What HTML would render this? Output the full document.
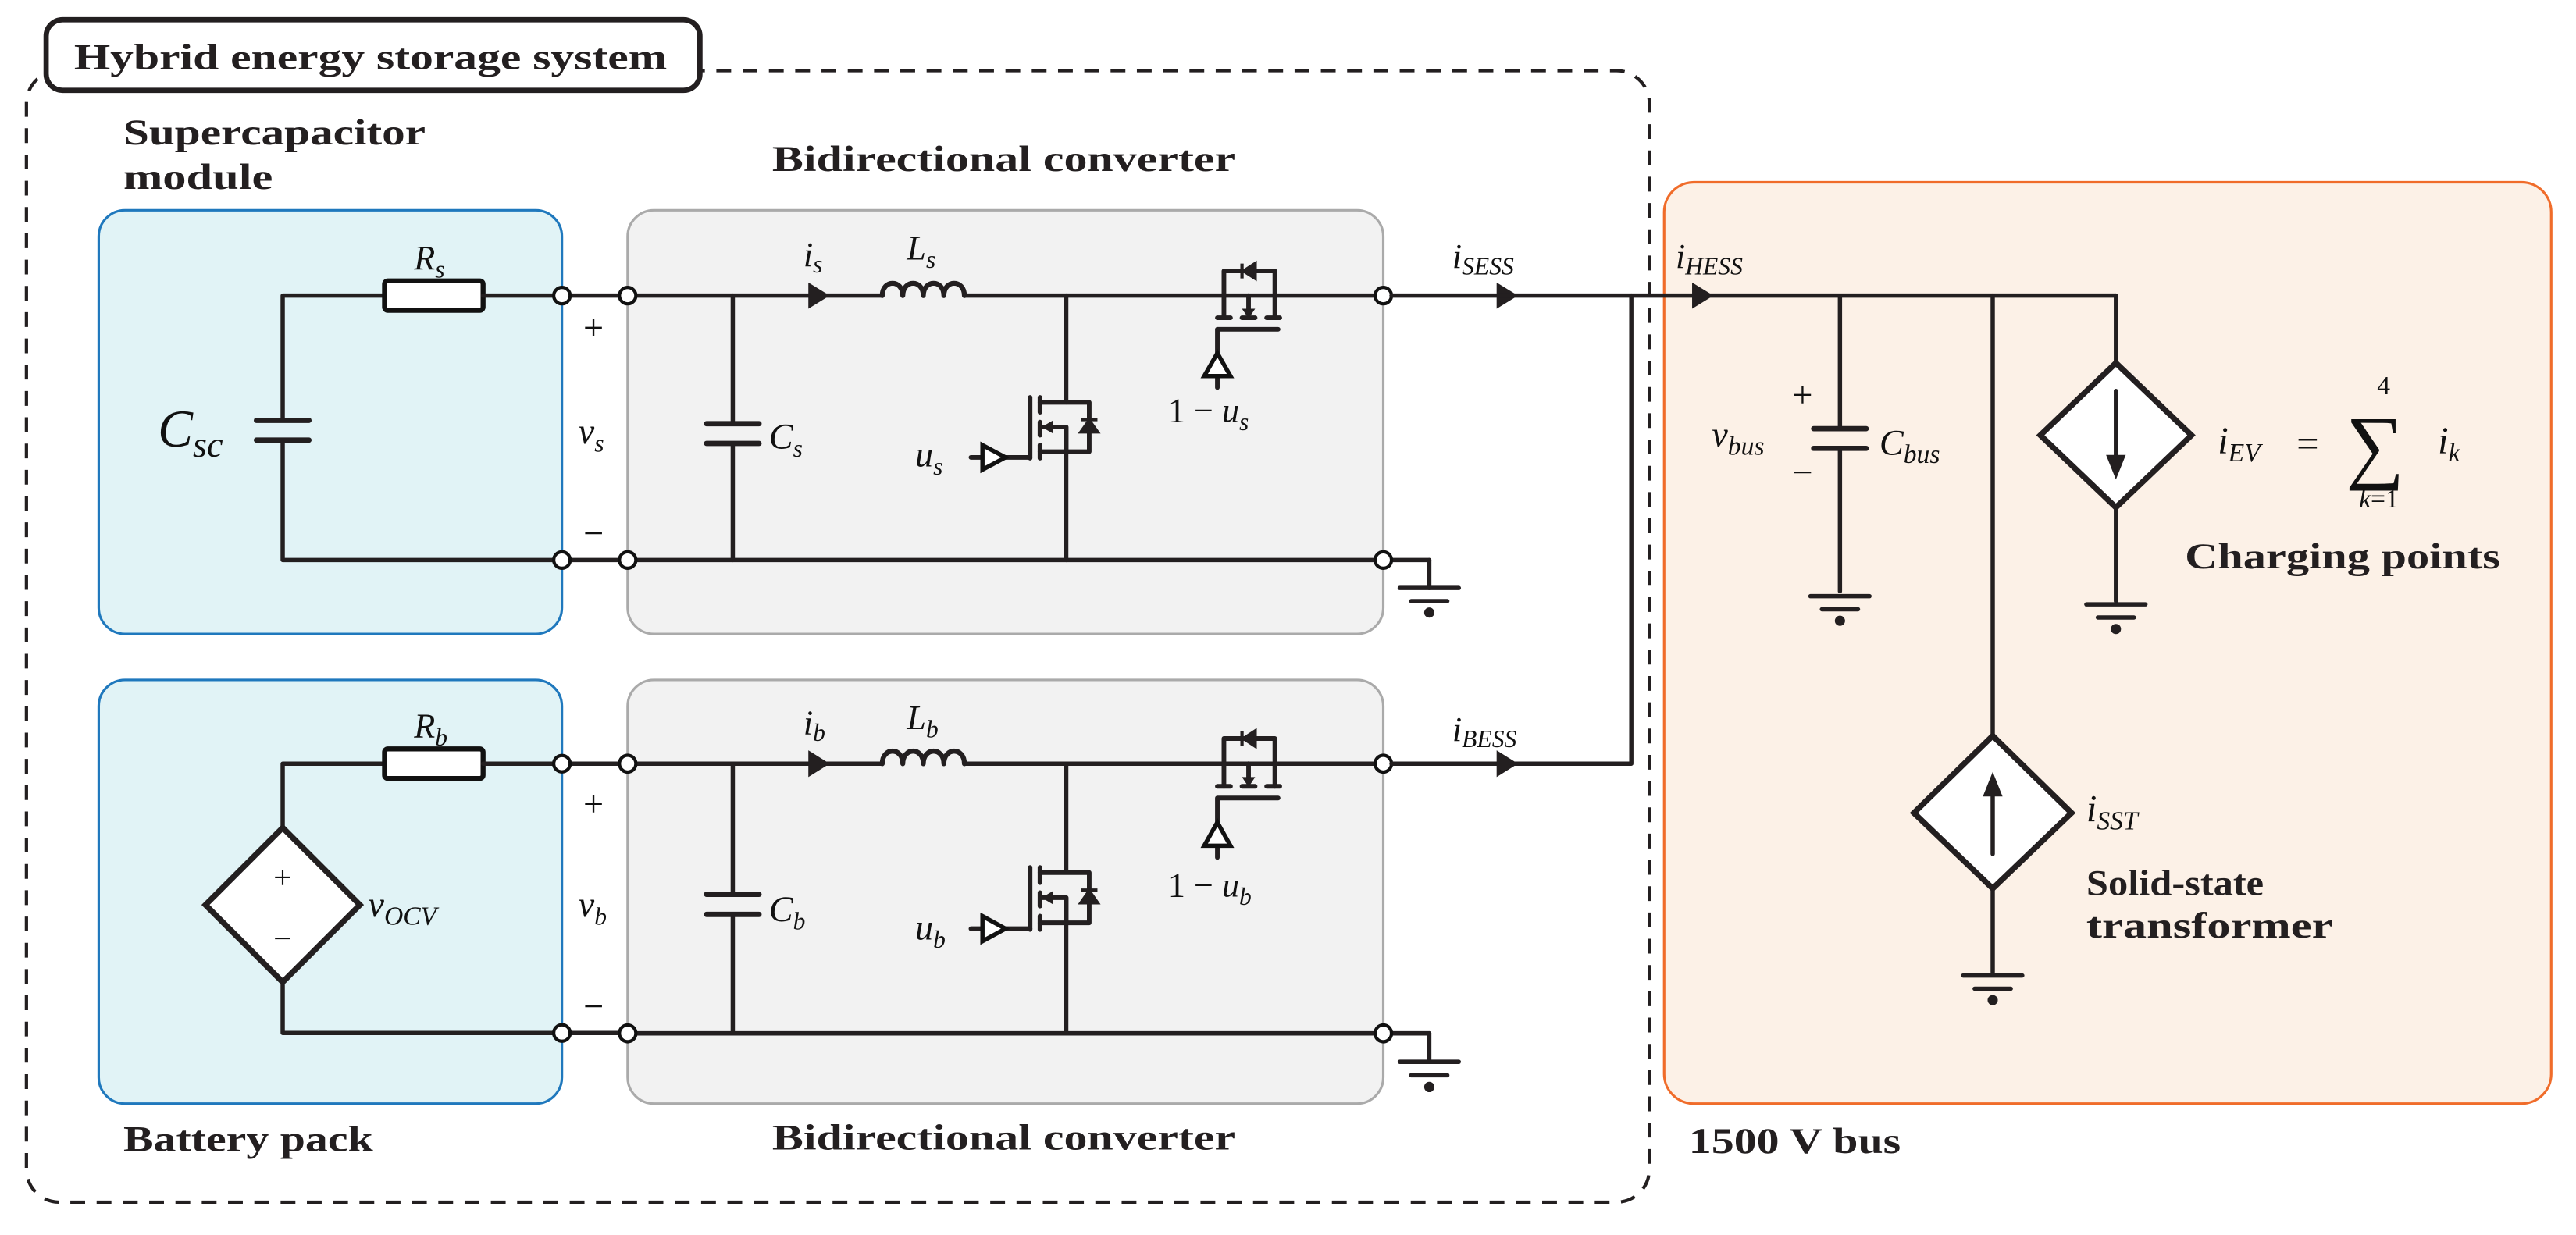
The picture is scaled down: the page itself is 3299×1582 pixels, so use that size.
<!DOCTYPE html>
<html><head><meta charset="utf-8"><style>
html,body{margin:0;padding:0;background:#fff;}
svg{display:block;}
.b{font-family:"Liberation Serif",serif;font-weight:bold;fill:#231f20;}
.m{font-family:"Liberation Serif",serif;font-style:italic;fill:#111;}
.n{font-family:"Liberation Serif",serif;fill:#111;}
.w{stroke:#231f20;stroke-width:2.6;fill:none;stroke-linecap:round;stroke-linejoin:round;}
.t{stroke:#111;stroke-width:2;fill:#fff;}
</style></head><body>
<svg width="3299" height="1582" viewBox="0 0 1568 752" xmlns="http://www.w3.org/2000/svg">
<defs>
<g id="gnd" class="w"><line x1="-18" y1="0" x2="18" y2="0"/><line x1="-11" y1="8" x2="11" y2="8"/><circle cx="0" cy="15" r="1.8" fill="#231f20"/></g>
<g id="conv">
 <line class="w" x1="446" y1="0" x2="446" y2="78"/><line class="w" x1="446" y1="90" x2="446" y2="161"/>
 <line class="w" x1="430" y1="78" x2="462" y2="78" style="stroke-width:3.2"/><line class="w" x1="430" y1="90" x2="462" y2="90" style="stroke-width:3.2"/>
 <line class="w" x1="387" y1="0" x2="537" y2="0"/>
 <path d="M492 -8 L505 0 L492 8 Z" fill="#231f20"/>
 <path class="w" d="M537 0 C537 -10 549.5 -10 549.5 0 C549.5 -10 562 -10 562 0 C562 -10 574.5 -10 574.5 0 C574.5 -10 587 -10 587 0" style="stroke-width:3"/>
 <line class="w" x1="587" y1="0" x2="837" y2="0"/>
 <line class="w" x1="387" y1="161" x2="837" y2="161"/>
 <line class="w" x1="649" y1="0" x2="649" y2="65"/><line class="w" x1="649" y1="95" x2="649" y2="161"/>
 <g class="w" style="stroke-width:2.8">
  <line x1="627" y1="62" x2="627" y2="99"/>
  <line x1="633" y1="62" x2="633" y2="71"/><line x1="633" y1="77" x2="633" y2="85"/><line x1="633" y1="91" x2="633" y2="99"/>
  <polyline points="633,65 663,65 663,95 633,95"/>
  <polyline points="634,80 649,80 649,95"/>
  <line x1="612" y1="98.5" x2="627" y2="98.5"/>
  <line x1="591" y1="98.5" x2="598" y2="98.5"/>
 </g>
 <path d="M634 80 L641 76 L641 84 Z" fill="#231f20"/>
 <path d="M658 83 L668 83 L663 76 Z M658 75.5 L668 75.5" fill="#231f20" stroke="#231f20" stroke-width="2"/>
 <path d="M598 91 L612 98.5 L598 106 Z" fill="#fff" stroke="#111" stroke-width="2.6" stroke-linejoin="miter"/>
 <g class="w" style="stroke-width:2.8">
  <polyline points="745,13.5 745,-15 776,-15 776,13.5"/>
  <line x1="741" y1="13.5" x2="749" y2="13.5"/><line x1="756" y1="13.5" x2="764" y2="13.5"/><line x1="771" y1="13.5" x2="779" y2="13.5"/>
  <line x1="760" y1="0" x2="760" y2="10"/>
  <polyline points="741,56 741,20.5 778,20.5"/>
 </g>
 <path d="M756 8 L764 8 L760 14 Z" fill="#231f20"/>
 <path d="M764 -19.5 L764 -10.5 L757 -15 Z M756 -19.5 L756 -10.5" fill="#231f20" stroke="#231f20" stroke-width="2"/>
 <path d="M741 35 L733 49 L749 49 Z" fill="#fff" stroke="#111" stroke-width="2.6" stroke-linejoin="miter"/>
 <line class="w" x1="847" y1="161" x2="870" y2="161"/><line class="w" x1="870" y1="161" x2="870" y2="178"/>
 <use href="#gnd" x="870" y="178"/>
 <path d="M911 -8 L924 0 L911 8 Z" fill="#231f20"/>
 <circle class="t" cx="382" cy="0" r="5"/><circle class="t" cx="382" cy="161" r="5"/>
 <circle class="t" cx="842" cy="0" r="5"/><circle class="t" cx="842" cy="161" r="5"/>
</g>
</defs>

<rect x="16" y="43" width="988" height="689" rx="20" fill="none" stroke="#231f20" stroke-width="2" stroke-dasharray="9,7"/>
<rect x="28" y="12" width="398" height="43" rx="10" fill="#fff" stroke="#231f20" stroke-width="3.2"/>
<text class="b" x="45" y="42" font-size="22" textLength="361" lengthAdjust="spacingAndGlyphs">Hybrid energy storage system</text>

<text class="b" x="75" y="88" font-size="22" textLength="184" lengthAdjust="spacingAndGlyphs">Supercapacitor</text>
<text class="b" x="75" y="115" font-size="22" textLength="91" lengthAdjust="spacingAndGlyphs">module</text>
<text class="b" x="470" y="104" font-size="22" textLength="282" lengthAdjust="spacingAndGlyphs">Bidirectional converter</text>
<text class="b" x="75" y="701" font-size="22" textLength="152" lengthAdjust="spacingAndGlyphs">Battery pack</text>
<text class="b" x="470" y="700" font-size="22" textLength="282" lengthAdjust="spacingAndGlyphs">Bidirectional converter</text>
<text class="b" x="1028" y="702" font-size="22" textLength="129" lengthAdjust="spacingAndGlyphs">1500 V bus</text>

<rect x="60" y="128" width="282" height="258" rx="16" fill="#e1f3f6" stroke="#1f78bd" stroke-width="1.5"/>
<rect x="60" y="414" width="282" height="258" rx="16" fill="#e1f3f6" stroke="#1f78bd" stroke-width="1.5"/>
<rect x="382" y="128" width="460" height="258" rx="16" fill="#f2f2f2" stroke="#aaaaaa" stroke-width="1.5"/>
<rect x="382" y="414" width="460" height="258" rx="16" fill="#f2f2f2" stroke="#aaaaaa" stroke-width="1.5"/>
<rect x="1013" y="111" width="540" height="561" rx="18" fill="#fcf1e7" stroke="#f06c2a" stroke-width="1.5"/>

<polyline class="w" points="234,180 172,180 172,256"/>
<polyline class="w" points="172,268 172,341 337,341"/>
<line class="w" x1="156" y1="256" x2="188" y2="256" style="stroke-width:3.2"/>
<line class="w" x1="156" y1="268" x2="188" y2="268" style="stroke-width:3.2"/>
<rect x="234" y="171" width="60" height="18" rx="2" fill="#fff" stroke="#111" stroke-width="3"/>
<line class="w" x1="294" y1="180" x2="337" y2="180"/>
<line class="w" x1="347" y1="180" x2="377" y2="180"/><line class="w" x1="347" y1="341" x2="377" y2="341"/>
<circle class="t" cx="342" cy="180" r="5"/><circle class="t" cx="342" cy="341" r="5"/>
<text class="m" x="96" y="272" font-size="32">C<tspan font-size="22" dy="6">sc</tspan></text>
<text class="m" x="252" y="164" font-size="21">R<tspan font-size="15" dy="5">s</tspan></text>
<text class="n" x="355" y="207" font-size="22">+</text>
<text class="m" x="352" y="270" font-size="22">v<tspan font-size="15" dy="5">s</tspan></text>
<text class="n" x="355" y="332" font-size="22">−</text>

<g transform="translate(0,180)"><use href="#conv"/></g>
<text class="m" x="468" y="273" font-size="22">C<tspan font-size="15" dy="5">s</tspan></text>
<text class="m" x="489" y="162" font-size="21">i<tspan font-size="15" dy="4">s</tspan></text>
<text class="m" x="552" y="158" font-size="21">L<tspan font-size="15" dy="5">s</tspan></text>
<text class="m" x="557" y="284" font-size="22">u<tspan font-size="15" dy="5">s</tspan></text>
<text class="n" x="711" y="257" font-size="21">1 − <tspan font-style="italic">u</tspan><tspan font-style="italic" font-size="15" dy="5">s</tspan></text>
<text class="m" x="884" y="163" font-size="21">i<tspan font-size="15" dy="4">SESS</tspan></text>

<polyline class="w" points="234,465 172,465 172,504"/>
<polyline class="w" points="172,598 172,629 337,629"/>
<path d="M172 504 L219 551 L172 598 L125 551 Z" fill="#fff" stroke="#231f20" stroke-width="3.5"/>
<text class="n" x="172" y="541" font-size="20" text-anchor="middle">+</text>
<text class="n" x="172" y="578" font-size="20" text-anchor="middle">−</text>
<rect x="234" y="456" width="60" height="18" rx="2" fill="#fff" stroke="#111" stroke-width="3"/>
<line class="w" x1="294" y1="465" x2="337" y2="465"/>
<line class="w" x1="347" y1="465" x2="377" y2="465"/><line class="w" x1="347" y1="629" x2="377" y2="629"/>
<circle class="t" cx="342" cy="465" r="5"/><circle class="t" cx="342" cy="629" r="5"/>
<text class="m" x="224" y="558" font-size="22">v<tspan font-size="16" dy="5">OCV</tspan></text>
<text class="m" x="252" y="449" font-size="21">R<tspan font-size="15" dy="5">b</tspan></text>
<text class="n" x="355" y="497" font-size="22">+</text>
<text class="m" x="352" y="558" font-size="22">v<tspan font-size="15" dy="5">b</tspan></text>
<text class="n" x="355" y="620" font-size="22">−</text>

<g transform="translate(0,465) scale(1,1.02)"><use href="#conv"/></g>
<text class="m" x="468" y="561" font-size="22">C<tspan font-size="15" dy="5">b</tspan></text>
<text class="m" x="489" y="447" font-size="21">i<tspan font-size="15" dy="4">b</tspan></text>
<text class="m" x="552" y="444" font-size="21">L<tspan font-size="15" dy="5">b</tspan></text>
<text class="m" x="557" y="572" font-size="22">u<tspan font-size="15" dy="5">b</tspan></text>
<text class="n" x="711" y="546" font-size="21">1 − <tspan font-style="italic">u</tspan><tspan font-style="italic" font-size="15" dy="5">b</tspan></text>
<text class="m" x="884" y="451" font-size="21">i<tspan font-size="15" dy="4">BESS</tspan></text>

<line class="w" x1="847" y1="180" x2="1288" y2="180"/>
<polyline class="w" points="847,465 993,465 993,180"/>
<polyline class="w" points="1288,180 1288,220"/>
<path d="M1030 172 L1043 180 L1030 188 Z" fill="#231f20"/>
<text class="m" x="1020" y="163" font-size="21">i<tspan font-size="15" dy="4">HESS</tspan></text>

<line class="w" x1="1120" y1="180" x2="1120" y2="261"/>
<line class="w" x1="1120" y1="273" x2="1120" y2="360"/>
<line class="w" x1="1104" y1="261" x2="1136" y2="261" style="stroke-width:3.2"/>
<line class="w" x1="1104" y1="273" x2="1136" y2="273" style="stroke-width:3.2"/>
<use href="#gnd" x="1120" y="363"/>
<text class="n" x="1091" y="248" font-size="22">+</text>
<text class="n" x="1091" y="295" font-size="22">−</text>
<text class="m" x="1042" y="272" font-size="22">v<tspan font-size="16" dy="5">bus</tspan></text>
<text class="m" x="1144" y="277" font-size="22">C<tspan font-size="16" dy="5">bus</tspan></text>

<path d="M1288 221 L1334 265 L1288 309 L1242 265 Z" fill="#fff" stroke="#231f20" stroke-width="3.5"/>
<line class="w" x1="1288" y1="238" x2="1288" y2="282"/>
<path d="M1282 277 L1288 292 L1294 277 Z" fill="#231f20"/>
<line class="w" x1="1288" y1="309" x2="1288" y2="366"/>
<use href="#gnd" x="1288" y="368"/>
<text class="m" x="1350" y="276" font-size="23">i<tspan font-size="16" dy="5">EV</tspan></text>
<text class="n" x="1398" y="278" font-size="24">=</text>
<text class="n" x="1428" y="288" font-size="50">∑</text>
<text class="n" x="1447" y="240" font-size="16">4</text>
<text class="m" x="1436" y="309" font-size="16">k<tspan font-style="normal">=1</tspan></text>
<text class="m" x="1484" y="276" font-size="23">i<tspan font-size="16" dy="5">k</tspan></text>
<text class="b" x="1330" y="346" font-size="22" textLength="192" lengthAdjust="spacingAndGlyphs">Charging points</text>

<line class="w" x1="1213" y1="180" x2="1213" y2="448"/>
<path d="M1213 448 L1261 495 L1213 541 L1165 495 Z" fill="#fff" stroke="#231f20" stroke-width="3.5"/>
<line class="w" x1="1213" y1="476" x2="1213" y2="520"/>
<path d="M1207 485 L1213 470 L1219 485 Z" fill="#231f20"/>
<line class="w" x1="1213" y1="541" x2="1213" y2="592"/>
<use href="#gnd" x="1213" y="594"/>
<text class="m" x="1270" y="500" font-size="23">i<tspan font-size="16" dy="5">SST</tspan></text>
<text class="b" x="1270" y="545" font-size="22" textLength="108" lengthAdjust="spacingAndGlyphs">Solid-state</text>
<text class="b" x="1270" y="571" font-size="22" textLength="150" lengthAdjust="spacingAndGlyphs">transformer</text>
</svg>
</body></html>
